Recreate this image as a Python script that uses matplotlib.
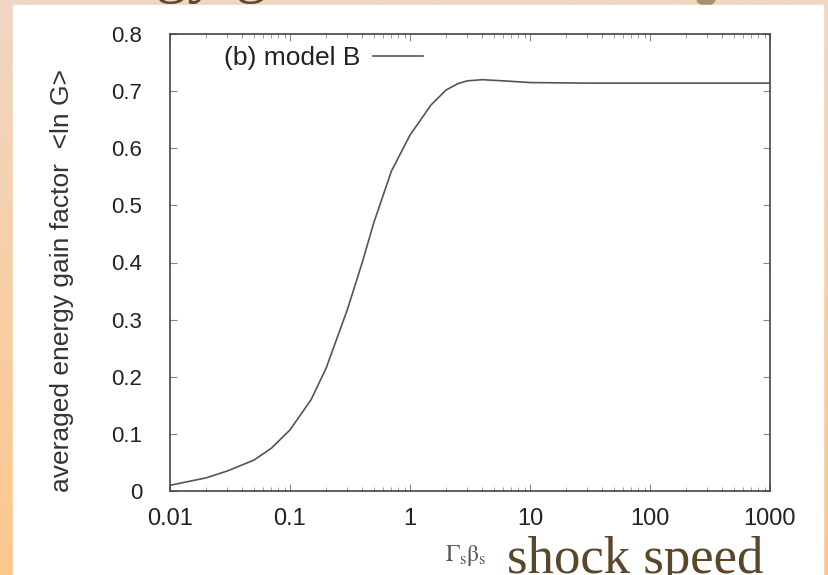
import numpy as np
import matplotlib
matplotlib.use("Agg")
import matplotlib.pyplot as plt
from matplotlib.patches import Rectangle, Ellipse

# data (shock speed vs <ln G>)
gamma_beta = [0.01, 0.02, 0.03, 0.05, 0.07, 0.1, 0.15, 0.2, 0.3, 0.4, 0.5, 0.7,
              1.0, 1.5, 2.0, 2.5, 3.0, 4.0, 6.0, 10.0, 30.0, 100.0, 1000.0]
ln_gain = [0.010, 0.023, 0.035, 0.054, 0.075, 0.107, 0.160, 0.215, 0.317, 0.400,
           0.470, 0.560, 0.623, 0.676, 0.702, 0.713, 0.718, 0.720, 0.718, 0.715,
           0.714, 0.714, 0.714]

x_ticks = [0.01, 0.1, 1, 10, 100, 1000]
x_tick_labels = ["0.01", "0.1", "1", "10", "100", "1000"]
y_ticks = [0, 0.1, 0.2, 0.3, 0.4, 0.5, 0.6, 0.7, 0.8]
y_tick_labels = ["0", "0.1", "0.2", "0.3", "0.4", "0.5", "0.6", "0.7", "0.8"]

W, H = 829, 575
fig = plt.figure(figsize=(W / 100, H / 100), dpi=100)

# slide background (pixel coordinates)
bg = fig.add_axes([0, 0, 1, 1])
bg.set_xlim(0, W)
bg.set_ylim(H, 0)
bg.axis("off")
grad = np.linspace(0, 1, 256).reshape(-1, 1)
cmap = matplotlib.colors.LinearSegmentedColormap.from_list("slide", ["#f0d6c3", "#f7cfa6", "#fcc78e"])
bg.imshow(grad, extent=[0, W, H, 0], aspect="auto", cmap=cmap, zorder=0)
bg.text(36, -10, "Energy gain", fontsize=46, family="Liberation Serif",
        color="#5c4a2c", va="baseline", zorder=1)
bg.add_patch(Ellipse((706, -1), 18, 12, color="#a8906f", zorder=1))
bg.add_patch(Rectangle((13, 5), 810, 575, color="white", zorder=2))

plt.rcParams["mathtext.fontset"] = "stix"
bg.text(445, 561, r"$\Gamma_{\rm s}\mathrm{\beta}_{\rm s}$", fontsize=17, color="#555555",
        va="baseline", zorder=3)
bg.text(507, 573, "shock speed", fontsize=38, family="Liberation Serif",
        color="#5a4628", va="baseline", zorder=3)

# the chart itself
ax = fig.add_axes([170 / W, 84 / H, 600 / W, 457 / H])
ax.plot(gamma_beta, ln_gain, color="#555555", linewidth=1.2, label="(b) model B")
ax.set_xscale("log")
ax.set_xlim(0.01, 1000)
ax.set_ylim(0, 0.8)
ax.set_xticks(x_ticks)
ax.set_xticklabels(x_tick_labels)
ax.set_yticks(y_ticks)
ax.set_yticklabels(y_tick_labels)

for side in ax.spines.values():
    side.set_color("#444444")
    side.set_linewidth(1.2)

ax.tick_params(which="both", direction="in", top=True, right=True, color="#888888")
ax.tick_params(which="major", length=5, width=0.8)
ax.tick_params(which="minor", length=3, width=0.6)
ax.tick_params(axis="x", labelsize=17, labelcolor="#222222", pad=12)
ax.tick_params(axis="y", labelsize=16, labelcolor="#222222", pad=20)
for lab in ax.get_xticklabels() + ax.get_yticklabels():
    lab.set_family("Liberation Sans")

ax.set_ylabel("averaged energy gain factor  <ln G>", fontsize=19,
              family="Liberation Sans", color="#333333")
ax.yaxis.set_label_coords(-0.16, 0.46)

leg = ax.legend(loc="upper left", bbox_to_anchor=(0.05, 1.025), frameon=False,
                markerfirst=False, handlelength=1.9, handletextpad=0.5,
                prop={"family": "Liberation Sans", "size": 19})
for t in leg.get_texts():
    t.set_color("#222222")

fig.savefig("out.png", dpi=100)
